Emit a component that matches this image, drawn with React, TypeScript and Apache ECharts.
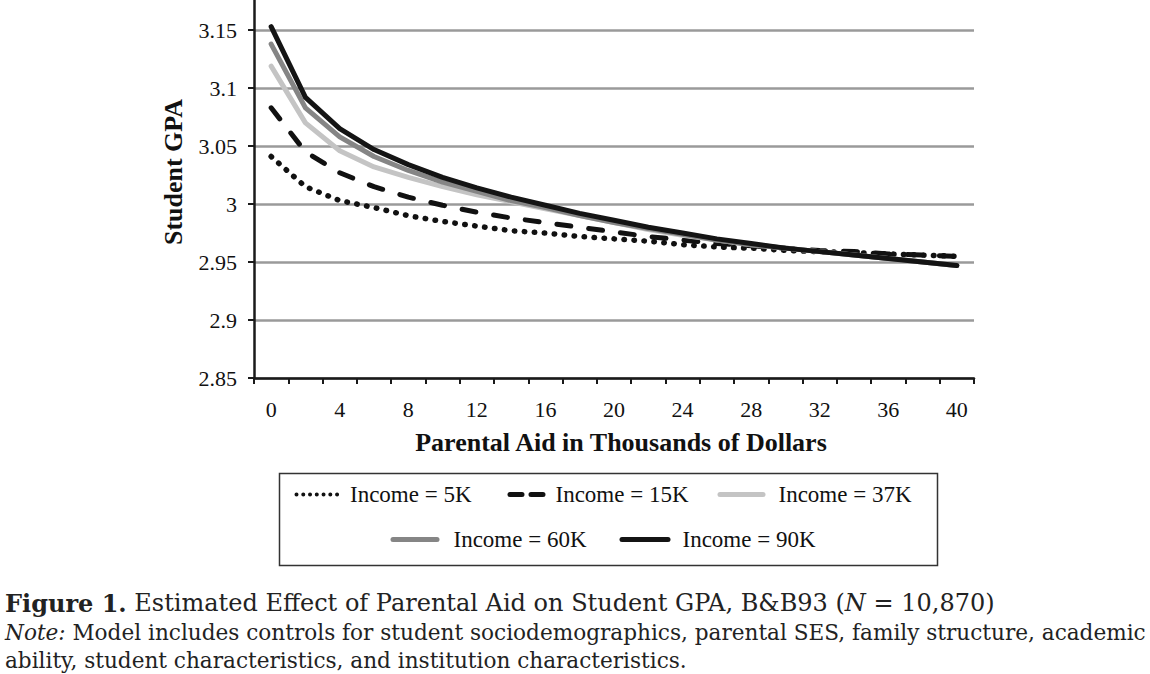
import React, { useEffect, useRef } from "react";
import * as echarts from "echarts";

const xCategories = ["0", "2", "4", "6", "8", "10", "12", "14", "16", "18", "20", "22", "24", "26", "28", "30", "32", "34", "36", "38", "40"];
const seriesNames = ["Income = 5K", "Income = 15K", "Income = 37K", "Income = 60K", "Income = 90K"];
const income5K = [3.041, 3.015, 3.003, 2.997, 2.990, 2.985, 2.981, 2.977, 2.975, 2.972, 2.970, 2.968, 2.965, 2.963, 2.962, 2.960, 2.959, 2.958, 2.957, 2.956, 2.955];
const income15K = [3.083, 3.045, 3.027, 3.015, 3.006, 2.999, 2.993, 2.988, 2.984, 2.980, 2.976, 2.972, 2.969, 2.966, 2.964, 2.962, 2.960, 2.959, 2.957, 2.956, 2.955];
const income37K = [3.119, 3.070, 3.046, 3.032, 3.023, 3.015, 3.008, 3.002, 2.996, 2.990, 2.984, 2.978, 2.973, 2.969, 2.965, 2.962, 2.959, 2.956, 2.953, 2.950, 2.947];
const income60K = [3.138, 3.083, 3.058, 3.041, 3.029, 3.019, 3.011, 3.003, 2.997, 2.990, 2.984, 2.979, 2.974, 2.969, 2.965, 2.962, 2.959, 2.956, 2.953, 2.950, 2.947];
const income90K = [3.153, 3.092, 3.065, 3.047, 3.034, 3.023, 3.014, 3.006, 2.999, 2.992, 2.986, 2.980, 2.975, 2.970, 2.966, 2.962, 2.959, 2.956, 2.953, 2.950, 2.947];
const yMin = 2.85;
const yMax = 3.176;
const yInterval = 0.05;
const xTitle = "Parental Aid in Thousands of Dollars";
const yTitle = "Student GPA";
const captionLine1 = "{b|Figure 1.} Estimated Effect of Parental Aid on Student GPA, B&B93 ({i|N} = 10,870)";
const captionLine2 = "{i|Note:} Model includes controls for student sociodemographics, parental SES, family structure, academic";
const captionLine3 = "ability, student characteristics, and institution characteristics.";

const SERIF = "'Liberation Serif', 'Times New Roman', serif";
const CAPTION_FONT = "'DejaVu Serif', serif";

export default function App() {
  const ref = useRef<HTMLDivElement>(null);

  useEffect(() => {
    if (!ref.current) return;
    const chart = echarts.init(ref.current, null, { renderer: "svg" });

    const lineStyles: any[] = [
      { color: "#111", width: 5.5, type: [0.5, 9.5], cap: "round", join: "round" },
      { color: "#111", width: 5, type: [14, 18], cap: "round", join: "round" },
      { color: "#c4c4c4", width: 5, type: "solid", cap: "round", join: "round" },
      { color: "#858585", width: 5, type: "solid", cap: "round", join: "round" },
      { color: "#141414", width: 5, type: "solid", cap: "round", join: "round" },
    ];
    const legendLineStyles: any[] = [
      { color: "#111", width: 4, type: [0.01, 6.75], cap: "round" },
      { color: "#111", width: 5, type: [12, 9], cap: "round" },
      { color: "#c4c4c4", width: 5, type: "solid", cap: "round" },
      { color: "#858585", width: 5, type: "solid", cap: "round" },
      { color: "#141414", width: 5, type: "solid", cap: "round" },
    ];
    const dataSets = [income5K, income15K, income37K, income60K, income90K];
    const legendPos = [
      { left: 294.5, top: 483, w: 42, pad: 6.5 },
      { left: 507.5, top: 483, w: 36, pad: 4.5 },
      { left: 717.5, top: 483, w: 43, pad: 10.5 },
      { left: 390.5, top: 528, w: 44, pad: 11.5 },
      { left: 619.5, top: 528, w: 46, pad: 9.5 },
    ];

    const fmt = (v: number) => String(Math.round(v * 100) / 100);

    chart.setOption({
      animation: false,
      backgroundColor: "#ffffff",
      grid: { left: 254, right: 176, top: 0, bottom: 296, containLabel: false },
      xAxis: {
        type: "category",
        data: xCategories,
        boundaryGap: true,
        axisLine: { show: true, lineStyle: { color: "#1a1a1a", width: 2.5 } },
        axisTick: { show: true, interval: 0, length: 6, lineStyle: { color: "#1a1a1a", width: 2 } },
        axisLabel: { interval: 1, margin: 20, color: "#111", fontFamily: SERIF, fontSize: 22 },
        splitLine: { show: false },
      },
      yAxis: {
        type: "value",
        min: yMin,
        max: yMax,
        interval: yInterval,
        axisLine: { show: true, lineStyle: { color: "#1a1a1a", width: 2.5 } },
        axisTick: { show: true, length: 6, lineStyle: { color: "#1a1a1a", width: 2 } },
        axisLabel: { margin: 17, color: "#111", fontFamily: SERIF, fontSize: 22, formatter: fmt, showMaxLabel: false },
        splitLine: { show: true, showMaxLine: false, lineStyle: { color: "#9a9a9a", width: 2.5 } },
      },
      legend: seriesNames.map((n, i) => ({
        data: [n],
        left: legendPos[i].left,
        top: legendPos[i].top,
        padding: 0,
        itemWidth: legendPos[i].w,
        itemHeight: 20,
        itemGap: 0,
        selectedMode: false,
        lineStyle: legendLineStyles[i],
        itemStyle: { opacity: 0, color: "transparent", borderWidth: 0 },
        textStyle: { fontFamily: SERIF, fontSize: 23, color: "#111", padding: [0, 0, 0, legendPos[i].pad] },
      })),
      series: seriesNames.map((n, i) => ({
        name: n,
        type: "line",
        data: dataSets[i],
        symbol: "none",
        showSymbol: false,
        smooth: false,
        lineStyle: lineStyles[i],
        z: 2 + i,
      })),
      graphic: [
        {
          type: "text",
          x: 173,
          y: 172,
          rotation: Math.PI / 2,
          style: {
            text: yTitle,
            fontFamily: SERIF,
            fontSize: 26,
            fontWeight: "bold",
            fill: "#111",
            align: "center",
            verticalAlign: "middle",
          },
        },
        {
          type: "text",
          x: 621,
          y: 442,
          style: {
            text: xTitle,
            fontFamily: SERIF,
            fontSize: 26,
            fontWeight: "bold",
            fill: "#111",
            align: "center",
            verticalAlign: "middle",
          },
        },
        {
          type: "rect",
          shape: { x: 279.5, y: 473.5, width: 658, height: 92 },
          style: { fill: "none", stroke: "#333", lineWidth: 1.5 },
          silent: true,
        },
        {
          type: "text",
          x: 5,
          y: 603,
          style: {
            text: captionLine1,
            fontFamily: CAPTION_FONT,
            fontSize: 24,
            fill: "#222",
            verticalAlign: "middle",
            rich: {
              b: { fontFamily: CAPTION_FONT, fontSize: 24, fontWeight: "bold", fill: "#222" },
              i: { fontFamily: CAPTION_FONT, fontSize: 24, fontStyle: "italic", fill: "#222" },
            },
          },
        },
        {
          type: "text",
          x: 5,
          y: 632,
          style: {
            text: captionLine2,
            fontFamily: CAPTION_FONT,
            fontSize: 21.6,
            fill: "#222",
            verticalAlign: "middle",
            rich: {
              i: { fontFamily: CAPTION_FONT, fontSize: 21.6, fontStyle: "italic", fill: "#222" },
            },
          },
        },
        {
          type: "text",
          x: 5,
          y: 660,
          style: {
            text: captionLine3,
            fontFamily: CAPTION_FONT,
            fontSize: 21.6,
            fill: "#222",
            verticalAlign: "middle",
          },
        },
      ],
    });

    return () => chart.dispose();
  }, []);

  return (
    <div
      ref={ref}
      style={{ position: "absolute", left: 0, top: 0, width: 1150, height: 674, overflow: "hidden" }}
    />
  );
}
